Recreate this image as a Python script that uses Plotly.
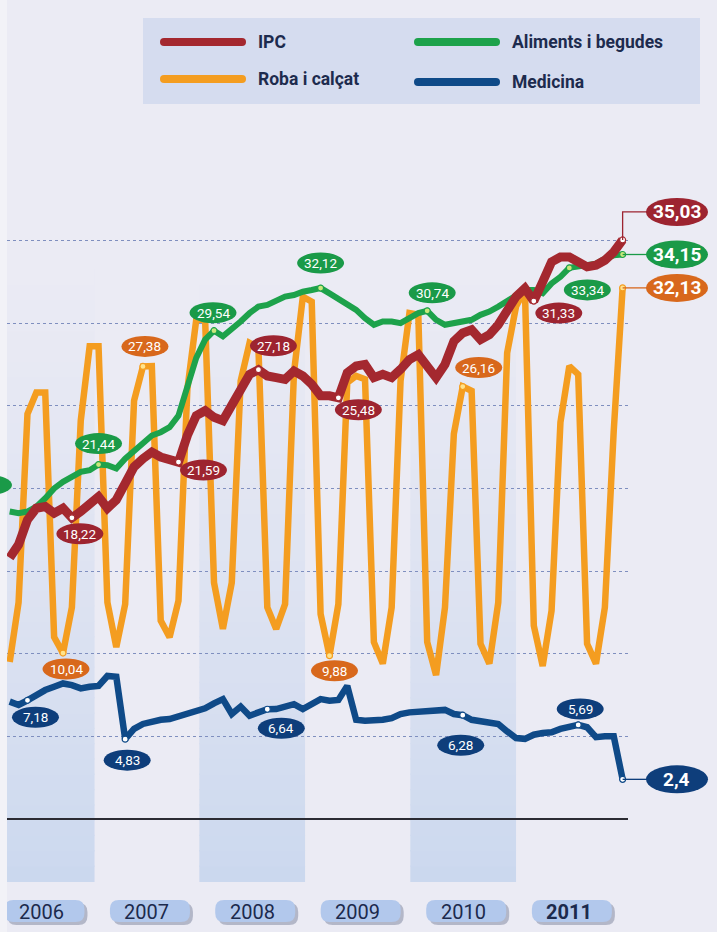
import plotly.graph_objects as go

# ---------------- data (month index 0 = first month shown) ----------------
months = list(range(70))

ipc = [15.8, 16.6, 18.1, 18.8, 18.9, 18.5, 18.8, 18.22, 18.6, 19.0,
       19.5, 18.8, 19.3, 20.3, 21.3, 21.8, 22.2, 21.9, 21.7, 21.59,
       23.2, 24.4, 24.7, 24.3, 24.1, 25.1, 26.0, 26.9, 27.18, 26.8,
       26.7, 26.6, 27.1, 26.8, 26.3, 25.6, 25.6, 25.48, 27.0, 27.4,
       27.5, 26.7, 26.9, 26.7, 27.2, 27.8, 28.1, 27.5, 26.7, 27.5,
       28.9, 29.4, 29.6, 29.0, 29.3, 29.9, 30.8, 31.6, 32.1, 31.33,
       32.5, 33.7, 34.0, 34.0, 33.7, 33.4, 33.5, 33.8, 34.3, 35.03]

aliments = [18.6, 18.5, 18.6, 18.9, 19.4, 20.0, 20.4, 20.7, 21.0, 21.1,
            21.44, 21.4, 21.2, 21.8, 22.3, 22.7, 23.2, 23.4, 23.7, 24.4,
            26.1, 27.9, 29.0, 29.54, 29.2, 29.6, 30.1, 30.6, 31.0, 31.1,
            31.4, 31.6, 31.7, 31.9, 32.0, 32.12, 31.8, 31.5, 31.2, 30.8,
            30.3, 29.9, 30.1, 30.1, 30.0, 30.3, 30.6, 30.74, 30.2, 29.9,
            30.0, 30.1, 30.2, 30.5, 30.7, 31.0, 31.3, 31.6, 32.0, 32.0,
            31.8, 32.4, 32.8, 33.34, 33.4, 33.5, 33.6, 33.9, 34.1, 34.15]

roba = [9.5, 13.1, 24.5, 25.8, 25.8, 11.0, 10.04, 12.8, 24.1, 28.6,
        28.6, 13.1, 10.4, 13.0, 25.3, 27.38, 27.4, 12.0, 11.0, 13.2,
        26.0, 30.2, 30.2, 14.3, 11.5, 14.3, 26.5, 28.8, 28.5, 12.8,
        11.5, 13.0, 27.0, 31.6, 31.3, 12.4, 9.88, 13.0, 26.4, 26.8,
        26.6, 10.7, 9.4, 12.8, 26.5, 30.6, 30.5, 10.7, 8.7, 12.8,
        23.3, 26.16, 25.9, 10.6, 9.4, 13.1, 28.2, 31.0, 32.0, 11.7,
        9.25, 12.6, 24.0, 27.4, 26.9, 10.6, 9.4, 12.8, 23.5, 32.13]

medicina = [7.1, 6.9, 7.18, 7.5, 7.8, 8.0, 8.2, 8.1, 7.9, 8.0,
            8.05, 8.65, 8.6, 4.83, 5.45, 5.75, 5.9, 6.0, 6.05, 6.2,
            6.35, 6.45, 6.7, 7.0, 7.25, 6.35, 6.8, 6.25, 6.4, 6.64,
            6.65, 6.85, 6.95, 6.65, 6.9, 7.25, 7.15, 7.2, 8.05, 6.0,
            5.95, 5.95, 6.0, 6.1, 6.35, 6.45, 6.5, 6.55, 6.6, 6.6,
            6.35, 6.28, 6.0, 5.9, 5.8, 5.75, 5.3, 4.9, 4.85, 5.1,
            5.2, 5.25, 5.45, 5.55, 5.69, 5.55, 4.95, 5.0, 5.0, 2.4]

series_names = ["IPC", "Aliments i begudes", "Roba i calçat", "Medicina"]

years = ["2006", "2007", "2008", "2009", "2010", "2011"]
year_bounds = [-2.4, 9.55, 21.35, 33.25, 45.1, 57.0, 68.9]
shaded_years = ["2006", "2008", "2010"]

grid_values = [5, 10, 15, 20, 25, 30, 35]

# labelled points: (month index, dx px, dy px)
labels_ipc = [(7, 8, 16), (19, 25, 8), (28, 15, -24), (37, 20, 12), (59, 25, 12)]
labels_ali = [(10, 0, -21), (23, -1, -18), (35, 0, -25), (47, 5, -18), (63, 18, 22)]
labels_rob = [(6, 3, 16), (15, 2, -20), (36, 5, 15), (51, 16, -19)]
labels_med = [(2, 8, 17), (13, 2, 21), (29, 14, 19), (51, -2, 30), (64, 2, -16)]

# ---------------- styling ----------------
BG = "#ebebf4"
C_IPC, C_ALI, C_ROB, C_MED = "#a4282f", "#1da24b", "#f49d20", "#0f4a88"
P_IPC, P_ALI, P_ROB, P_MED = "#9d2430", "#1a9a48", "#d8681c", "#0e3e7b"
FONT = "Roboto, Lato, sans-serif"

W, H = 717, 932
L, R = 7, 628
XR = [-0.304, 69.605]
YR = [-6.836, 49.546]


def k2px(k):
    return L + (k - XR[0]) * (R - L) / (XR[1] - XR[0])


def px2k(p):
    return XR[0] + (p - L) * (XR[1] - XR[0]) / (R - L)


def v2py(v):
    return (YR[1] - v) * H / (YR[1] - YR[0])


def py2v(py):
    return YR[1] - py * (YR[1] - YR[0]) / H


def pxp(p):
    return (p - L) / (R - L)


def pyp(py):
    return 1 - py / H


fig = go.Figure()
shapes = []
annotations = []

# light strip at the very left edge
shapes.append(dict(type="rect", xref="paper", yref="paper", layer="below",
                   x0=pxp(0), x1=pxp(L), y0=0, y1=1,
                   fillcolor="#f2f2f7", line=dict(width=0)))

# ---- shaded year bands (vertical fade) ----
band_bottom_py = 882
band_top_py = 270
bottom_rgb = (202, 215, 238)
bg_rgb = (235, 235, 244)
N = 40
for i, y in enumerate(years):
    if y not in shaded_years:
        continue
    x0 = max(year_bounds[i], XR[0])
    x1 = year_bounds[i + 1]
    for s in range(N):
        t0 = s / N
        t1 = (s + 1) / N
        py_a = band_bottom_py - (band_bottom_py - band_top_py) * t0
        py_b = band_bottom_py - (band_bottom_py - band_top_py) * t1
        tm = (t0 + t1) / 2
        f = tm ** 0.75
        col = tuple(round(bottom_rgb[c] + (bg_rgb[c] - bottom_rgb[c]) * f) for c in range(3))
        shapes.append(dict(type="rect", xref="x", yref="y", x0=x0, x1=x1,
                           y0=py2v(py_a), y1=py2v(py_b) + 0.08, layer="below",
                           line=dict(width=0), fillcolor="rgb(%d,%d,%d)" % col))

# ---- lines ----
for name, data, col, wd in [("Roba i calçat", roba, C_ROB, 6.5),
                            ("Medicina", medicina, C_MED, 6.5),
                            ("Aliments i begudes", aliments, C_ALI, 6),
                            ("IPC", ipc, C_IPC, 9)]:
    fig.add_trace(go.Scatter(x=months, y=data, mode="lines", name=name,
                             line=dict(color=col, width=wd), hoverinfo="skip",
                             showlegend=False))


def fmt(v):
    return ("%g" % v).replace(".", ",")


def pill(cx, cy, w, h, fill):
    shapes.append(dict(type="circle", xref="x", yref="y", layer="above",
                       x0=px2k(cx - w / 2), x1=px2k(cx + w / 2),
                       y0=py2v(cy + h / 2), y1=py2v(cy - h / 2),
                       fillcolor=fill, line=dict(width=0)))


# ---- small labels ----
for data, labs, pcol, dotcol, dotline in [
        (ipc, labels_ipc, P_IPC, "white", C_IPC),
        (aliments, labels_ali, P_ALI, "#c9e87c", C_ALI),
        (roba, labels_rob, P_ROB, "#ffe38c", C_ROB),
        (medicina, labels_med, P_MED, "white", C_MED)]:
    mx = []
    my = []
    for k, dx, dy in labs:
        v = data[k]
        cx = k2px(k) + dx
        cy = v2py(v) + dy
        pill(cx, cy, 47, 21, pcol)
        annotations.append(dict(x=px2k(cx), y=py2v(cy), xref="x", yref="y",
                                xanchor="center", yanchor="middle",
                                text=fmt(v), showarrow=False,
                                font=dict(family=FONT, size=13.5, color="white")))
        mx.append(k)
        my.append(v)
    mx.append(months[-1])
    my.append(data[-1])
    fig.add_trace(go.Scatter(x=mx, y=my, mode="markers", hoverinfo="skip",
                             showlegend=False,
                             marker=dict(size=6, color=dotcol,
                                         line=dict(color=dotline, width=1.2))))

# ---- end labels ----
end_px = 677
for data, pcol, dy in [(ipc, P_IPC, -28), (aliments, P_ALI, 0),
                       (roba, P_ROB, 0), (medicina, P_MED, 0)]:
    v = data[-1]
    xk = months[-1]
    cy = v2py(v) + dy
    x_pt = pxp(k2px(xk))
    x_pill_left = pxp(end_px - 30)
    if dy != 0:
        shapes.append(dict(type="path", xref="paper", yref="y", layer="above",
                           path="M %f,%f L %f,%f L %f,%f" % (x_pt, v, x_pt, py2v(cy),
                                                             x_pill_left, py2v(cy)),
                           line=dict(color=pcol, width=1.3)))
    else:
        shapes.append(dict(type="line", xref="paper", yref="y", layer="above",
                           x0=x_pt, x1=x_pill_left, y0=v, y1=v,
                           line=dict(color=pcol, width=1.3)))
    shapes.append(dict(type="circle", xref="paper", yref="y", layer="above",
                       x0=pxp(end_px - 31), x1=pxp(end_px + 31),
                       y0=py2v(cy + 14), y1=py2v(cy - 14),
                       fillcolor=pcol, line=dict(width=0)))
    annotations.append(dict(x=pxp(end_px), y=py2v(cy), xref="paper", yref="y",
                            xanchor="center", yanchor="middle",
                            text="<b>%s</b>" % fmt(v), showarrow=False,
                            font=dict(family=FONT, size=19, color="white")))

# partial pill cut by the left edge
shapes.append(dict(type="circle", xref="paper", yref="y", layer="above",
                   x0=pxp(-34), x1=pxp(12), y0=py2v(495), y1=py2v(475),
                   fillcolor=P_ALI, line=dict(width=0)))


# ---- year pills ----
def rrect(cx, cy, w, h, r):
    x0, x1 = cx - w / 2, cx + w / 2
    y0, y1 = cy - h / 2, cy + h / 2
    pts = []
    pts.append("M %f,%f" % (px2k(x0 + r), py2v(y0)))
    pts.append("L %f,%f" % (px2k(x1 - r), py2v(y0)))
    pts.append("Q %f,%f %f,%f" % (px2k(x1), py2v(y0), px2k(x1), py2v(y0 + r)))
    pts.append("L %f,%f" % (px2k(x1), py2v(y1 - r)))
    pts.append("Q %f,%f %f,%f" % (px2k(x1), py2v(y1), px2k(x1 - r), py2v(y1)))
    pts.append("L %f,%f" % (px2k(x0 + r), py2v(y1)))
    pts.append("Q %f,%f %f,%f" % (px2k(x0), py2v(y1), px2k(x0), py2v(y1 - r)))
    pts.append("L %f,%f" % (px2k(x0), py2v(y0 + r)))
    pts.append("Q %f,%f %f,%f" % (px2k(x0), py2v(y0), px2k(x0 + r), py2v(y0)))
    return " ".join(pts) + " Z"


pill_py = 911
for i, y in enumerate(years):
    ck = (year_bounds[i] + year_bounds[i + 1]) / 2
    cx = k2px(ck) + 3
    shapes.append(dict(type="path", xref="x", yref="y", layer="above",
                       path=rrect(cx + 3, pill_py + 3, 80, 22, 9),
                       fillcolor="rgba(95,105,135,0.40)", line=dict(width=0)))
    shapes.append(dict(type="path", xref="x", yref="y", layer="above",
                       path=rrect(cx, pill_py, 80, 22, 9),
                       fillcolor="#b2c8ec", line=dict(width=0)))
    txt = "<b>%s</b>" % y if y == years[-1] else y
    annotations.append(dict(x=px2k(k2px(ck)), y=py2v(pill_py + 1), xref="x", yref="y",
                            xanchor="center", yanchor="middle",
                            text=txt, showarrow=False,
                            font=dict(family=FONT, size=20, color="#1c2a4c")))

# ---- legend box ----
shapes.append(dict(type="rect", xref="paper", yref="paper", layer="above",
                   x0=pxp(143), x1=pxp(700), y0=pyp(104), y1=pyp(18),
                   fillcolor="#d5dcef", line=dict(width=0)))
for name, col, lx, ly in [("IPC", C_IPC, 160, 42), ("Roba i calçat", C_ROB, 160, 79),
                          ("Aliments i begudes", C_ALI, 414, 42), ("Medicina", C_MED, 414, 82)]:
    shapes.append(dict(type="line", xref="paper", yref="paper", layer="above",
                       x0=pxp(lx + 4), x1=pxp(lx + 82), y0=pyp(ly), y1=pyp(ly),
                       line=dict(color=col, width=8)))
    for ex in (lx + 4, lx + 82):
        shapes.append(dict(type="circle", xref="paper", yref="paper", layer="above",
                           x0=pxp(ex - 4), x1=pxp(ex + 4), y0=pyp(ly + 4), y1=pyp(ly - 4),
                           fillcolor=col, line=dict(width=0)))
    annotations.append(dict(x=pxp(lx + 96), y=pyp(ly), xref="paper", yref="paper",
                            xanchor="left", yanchor="middle", text="<b>%s</b>" % name,
                            showarrow=False,
                            font=dict(family=FONT, size=17.5, color="#1d2b4e")))

fig.update_layout(
    width=W, height=H,
    margin=dict(l=L, r=W - R, t=0, b=0),
    paper_bgcolor=BG, plot_bgcolor=BG,
    showlegend=False,
    shapes=shapes, annotations=annotations,
    xaxis=dict(range=XR, showgrid=False, zeroline=False, showticklabels=False,
               ticks="", fixedrange=True),
    yaxis=dict(range=YR, tickvals=grid_values, showticklabels=False, ticks="",
               showgrid=True, gridcolor="#7f8fbf", gridwidth=1, griddash="dot",
               zeroline=True, zerolinecolor="#2b2b33", zerolinewidth=1.5,
               fixedrange=True),
)

fig.write_html("out.html",
               config={"displayModeBar": False, "staticPlot": True},
               post_script="document.body.style.margin='0';"
                           "document.body.style.overflow='hidden';")
